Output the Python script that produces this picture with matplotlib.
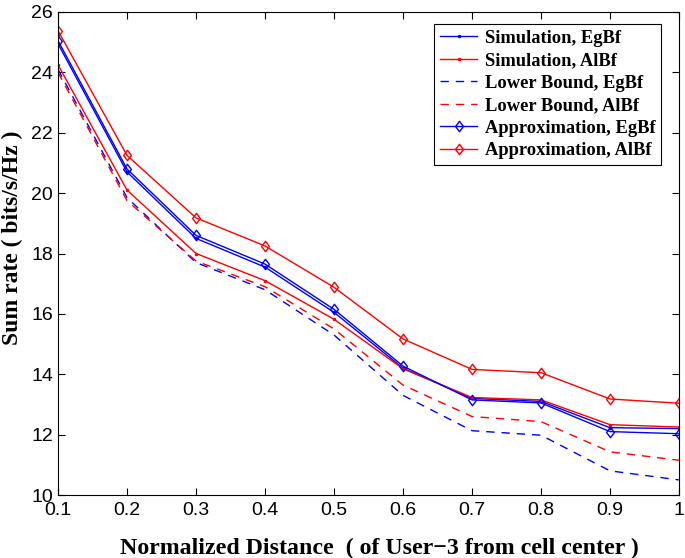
import matplotlib
matplotlib.use("Agg")
import matplotlib.pyplot as plt
from matplotlib.path import Path

# distance of user-3 from the cell centre (normalized)
distance = [0.1, 0.2, 0.3, 0.4, 0.5, 0.6, 0.7, 0.8, 0.9, 1.0]

# sum rate values (bits/s/Hz)
sim_egbf = [24.95, 20.70, 18.50, 17.55, 16.05, 14.20, 13.20, 13.10, 12.23, 12.20]
sim_albf = [24.25, 20.10, 18.00, 17.10, 15.82, 14.18, 13.23, 13.15, 12.33, 12.25]
lb_egbf = [24.10, 19.85, 17.70, 16.80, 15.30, 13.30, 12.13, 11.98, 10.80, 10.50]
lb_albf = [24.00, 19.75, 17.75, 16.90, 15.50, 13.64, 12.60, 12.43, 11.43, 11.15]
approx_egbf = [25.05, 20.80, 18.60, 17.65, 16.15, 14.27, 13.15, 13.05, 12.10, 12.03]
approx_albf = [25.38, 21.25, 19.18, 18.25, 16.88, 15.17, 14.16, 14.05, 13.18, 13.04]

# matlab style diamond, a bit narrower than tall
diamond = Path([(0, 1), (0.75, 0), (0, -1), (-0.75, 0), (0, 1)],
               [Path.MOVETO, Path.LINETO, Path.LINETO, Path.LINETO, Path.CLOSEPOLY])

fig = plt.figure(figsize=(6.85, 5.58), dpi=100)
ax = fig.add_axes([58 / 685, 1 - 495 / 558, 621 / 685, 483 / 558])

ax.plot(distance, sim_egbf, color="blue", marker=".", markersize=3, lw=1, label="Simulation, EgBf")
ax.plot(distance, sim_albf, color="red", marker=".", markersize=3, lw=1, label="Simulation, AlBf")
ax.plot(distance, lb_egbf, color="blue", ls=(0, (6, 5)), lw=1, label="Lower Bound, EgBf")
ax.plot(distance, lb_albf, color="red", ls=(0, (6, 5)), lw=1, label="Lower Bound, AlBf")
ax.plot(distance, approx_egbf, color="blue", marker=diamond, markersize=7.5, mfc="none", lw=1,
        label="Approximation, EgBf")
ax.plot(distance, approx_albf, color="red", marker=diamond, markersize=7.5, mfc="none", lw=1,
        label="Approximation, AlBf")

ax.set_xlim(0.1, 1.0)
ax.set_ylim(10, 26)
ax.set_xticks(distance)
ax.set_xticklabels(["0.1", "0.2", "0.3", "0.4", "0.5", "0.6", "0.7", "0.8", "0.9", "1"])
ax.set_yticks(range(10, 27, 2))
ax.tick_params(direction="in", length=5, labelsize=14, top=True, right=True)
ax.tick_params(axis="x", pad=5)
for lab in ax.get_xticklabels() + ax.get_yticklabels():
    lab.set_fontfamily("Liberation Sans")

ax.set_xlabel("Normalized Distance  ( of User\u22123 from cell center )",
              fontfamily="Liberation Serif", fontweight="bold", fontsize=17.2)
ax.set_ylabel("Sum rate ( bits/s/Hz )",
              fontfamily="Liberation Serif", fontweight="bold", fontsize=17)
# label positions in axes fraction, matched to the reference
ax.xaxis.set_label_coords(321 / 621, -43 / 483)
ax.yaxis.set_label_coords(-35 / 621, 257 / 483)

leg = ax.legend(loc="upper right", bbox_to_anchor=(603 / 621, 471 / 483), fancybox=False,
                edgecolor="black", framealpha=1, handlelength=2.05, borderaxespad=0,
                borderpad=0.3, handletextpad=0.4,
                prop={"family": "Liberation Serif", "weight": "bold", "size": 13.3},
                labelspacing=0.3)
leg.get_frame().set_linewidth(0.8)

fig.savefig("out.png", dpi=100)
